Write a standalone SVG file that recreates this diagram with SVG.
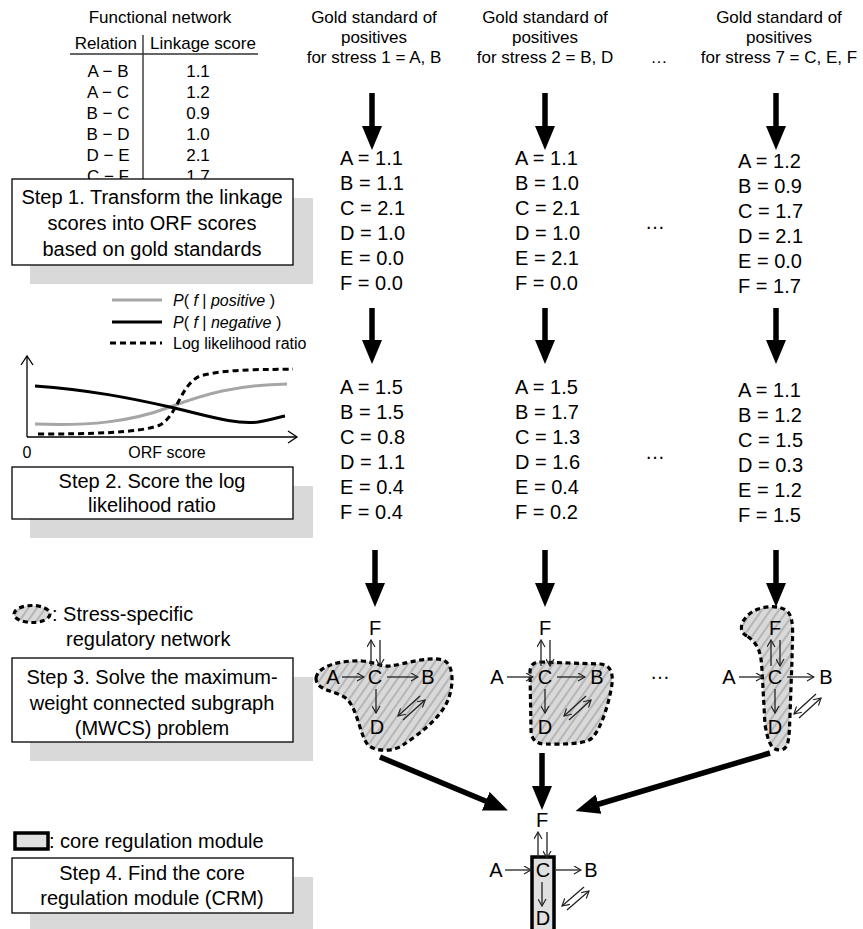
<svg xmlns="http://www.w3.org/2000/svg" width="863" height="929" viewBox="0 0 863 929">
<style>
text{font-family:"Liberation Sans",Arial,sans-serif;fill:#000}
.s16{font-size:16px}
.s17{font-size:17px}
.s20{font-size:20px}
.mid{text-anchor:middle}
.it{font-style:italic}
.box{fill:#fff;stroke:#000;stroke-width:1.3}
.shadow{fill:#d9d9d9}
.big{stroke:#000;stroke-width:5.5;fill:none;marker-end:url(#bighead)}
.thin{stroke:#222;stroke-width:1.3;fill:none;marker-end:url(#openhead)}
.blob{fill:url(#hatch);stroke:#000;stroke-width:3.2;stroke-dasharray:5 3.5}
</style>
<defs>
<pattern id="hatch" patternUnits="userSpaceOnUse" width="7" height="10" patternTransform="rotate(35)">
<rect width="7" height="10" fill="#d9d9d9"/>
<path d="M1,0 L1,10" stroke="#a3a3a3" stroke-width="1.3"/>
</pattern>
<marker id="bighead" markerUnits="userSpaceOnUse" markerWidth="24" markerHeight="20" viewBox="0 0 24 20" refX="10" refY="10" orient="auto">
<path d="M0,0 L24,10 L0,20 Z" fill="#000"/>
</marker>
<marker id="openhead" markerUnits="userSpaceOnUse" markerWidth="9" markerHeight="9" viewBox="0 0 9 9" refX="8" refY="4.5" orient="auto">
<path d="M1,0.5 L8,4.5 L1,8.5" fill="none" stroke="#222" stroke-width="1.2"/>
</marker>
<marker id="axishead" markerUnits="userSpaceOnUse" markerWidth="12" markerHeight="14" viewBox="0 0 12 14" refX="10" refY="7" orient="auto">
<path d="M1,1 L10,7 L1,13" fill="none" stroke="#000" stroke-width="1.3"/>
</marker>
</defs>

<!-- Functional network table -->
<g id="table">
<text class="s17 mid" x="160" y="23">Functional network</text>
<text class="s17" x="137" y="49" text-anchor="end">Relation</text>
<text class="s17" x="150" y="49">Linkage score</text>
<line x1="70" y1="54" x2="258" y2="54" stroke="#333" stroke-width="1.4"/>
<line x1="143" y1="35" x2="143" y2="182" stroke="#333" stroke-width="1.4"/>
<g class="s17">
<text class="mid" x="108" y="77">A − B</text><text class="mid" x="198" y="77">1.1</text>
<text class="mid" x="108" y="98">A − C</text><text class="mid" x="198" y="98">1.2</text>
<text class="mid" x="108" y="119">B − C</text><text class="mid" x="198" y="119">0.9</text>
<text class="mid" x="108" y="140">B − D</text><text class="mid" x="198" y="140">1.0</text>
<text class="mid" x="108" y="161">D − E</text><text class="mid" x="198" y="161">2.1</text>
<text class="mid" x="108" y="182">C − F</text><text class="mid" x="198" y="182">1.7</text>
</g>
</g>

<!-- Step boxes -->
<g id="step1">
<rect class="shadow" x="30" y="198" width="283" height="86"/>
<rect class="box" x="12" y="179" width="281" height="86"/>
<text class="s20 mid" x="152" y="204">Step 1. Transform the linkage</text>
<text class="s20 mid" x="152" y="230">scores into ORF scores</text>
<text class="s20 mid" x="152" y="256">based on gold standards</text>
</g>

<g id="chart">
<line x1="112" y1="300" x2="162" y2="300" stroke="#a6a6a6" stroke-width="3"/>
<text class="s16" x="173" y="306"><tspan class="it">P</tspan>( <tspan class="it">f</tspan> | <tspan class="it">positive</tspan> )</text>
<line x1="112" y1="322" x2="162" y2="322" stroke="#000" stroke-width="3"/>
<text class="s16" x="173" y="328"><tspan class="it">P</tspan>( <tspan class="it">f</tspan> | <tspan class="it">negative</tspan> )</text>
<line x1="110" y1="343" x2="162" y2="343" stroke="#000" stroke-width="3" stroke-dasharray="6 4"/>
<text class="s16" x="173" y="349">Log likelihood ratio</text>
<path d="M27,437 L27,356" stroke="#000" stroke-width="1.3" fill="none" marker-end="url(#axishead)"/>
<path d="M27,437 L297,437" stroke="#000" stroke-width="1.3" fill="none" marker-end="url(#axishead)"/>
<path d="M35,424 C90,426 130,422 170,407 C205,394 235,385 287,384" stroke="#a6a6a6" stroke-width="3" fill="none"/>
<path d="M35,386 C90,390 130,398 170,407 C205,415 235,425 258,422 C270,420 280,417 285,416" stroke="#000" stroke-width="3" fill="none"/>
<path d="M38,434 C90,434 140,433 160,425 C178,415 180,385 200,376 C230,368 270,370 293,369" stroke="#000" stroke-width="3" fill="none" stroke-dasharray="6 4"/>
<text class="s16 mid" x="27" y="458">0</text>
<text class="s16 mid" x="167" y="458">ORF score</text>
</g>

<g id="step2">
<rect class="shadow" x="30" y="486" width="283" height="52"/>
<rect class="box" x="12" y="467" width="281" height="52"/>
<text class="s20 mid" x="152" y="488">Step 2. Score the log</text>
<text class="s20 mid" x="152" y="512">likelihood ratio</text>
</g>

<g id="legend3">
<ellipse class="blob" cx="32" cy="614" rx="18" ry="8.5"/>
<text class="s20" x="52" y="621">: Stress-specific</text>
<text class="s20" x="66" y="646">regulatory network</text>
</g>

<g id="step3">
<rect class="shadow" x="30" y="677" width="283" height="84"/>
<rect class="box" x="12" y="658" width="281" height="84"/>
<text class="s20 mid" x="152" y="684">Step 3. Solve the maximum-</text>
<text class="s20 mid" x="152" y="710">weight connected subgraph</text>
<text class="s20 mid" x="152" y="735">(MWCS) problem</text>
</g>

<g id="legend4">
<rect x="15" y="833" width="33" height="16" fill="#e0e0e0" stroke="#000" stroke-width="3.5"/>
<text class="s20" x="49" y="848">: core regulation module</text>
</g>

<g id="step4">
<rect class="shadow" x="30" y="877" width="283" height="55"/>
<rect class="box" x="12" y="858" width="281" height="55"/>
<text class="s20 mid" x="152" y="880">Step 4. Find the core</text>
<text class="s20 mid" x="152" y="905">regulation module (CRM)</text>
</g>

<!-- Column headers -->
<g id="header1" class="s17">
<text class="mid" x="374" y="23">Gold standard of</text>
<text class="mid" x="374" y="43">positives</text>
<text class="mid" x="374" y="63">for stress 1 = A, B</text>
</g>
<g id="header2" class="s17">
<text class="mid" x="545" y="23">Gold standard of</text>
<text class="mid" x="545" y="43">positives</text>
<text class="mid" x="545" y="63">for stress 2 = B, D</text>
</g>
<text class="s17 mid" x="659" y="63">…</text>
<g id="header3" class="s17">
<text class="mid" x="779" y="23">Gold standard of</text>
<text class="mid" x="779" y="43">positives</text>
<text class="mid" x="779" y="63">for stress 7 = C, E, F</text>
</g>

<!-- ORF scores -->
<g id="orf1" class="s20">
<text x="340" y="165">A = 1.1</text><text x="340" y="190">B = 1.1</text><text x="340" y="215">C = 2.1</text>
<text x="340" y="240">D = 1.0</text><text x="340" y="265">E = 0.0</text><text x="340" y="290">F = 0.0</text>
</g>
<g id="orf2" class="s20">
<text x="515" y="165">A = 1.1</text><text x="515" y="190">B = 1.0</text><text x="515" y="215">C = 2.1</text>
<text x="515" y="240">D = 1.0</text><text x="515" y="265">E = 2.1</text><text x="515" y="290">F = 0.0</text>
</g>
<text class="s20 mid" x="655" y="229">…</text>
<g id="orf3" class="s20">
<text x="738" y="168">A = 1.2</text><text x="738" y="193">B = 0.9</text><text x="738" y="218">C = 1.7</text>
<text x="738" y="243">D = 2.1</text><text x="738" y="268">E = 0.0</text><text x="738" y="293">F = 1.7</text>
</g>

<!-- LLR scores -->
<g id="llr1" class="s20">
<text x="340" y="394">A = 1.5</text><text x="340" y="419">B = 1.5</text><text x="340" y="444">C = 0.8</text>
<text x="340" y="469">D = 1.1</text><text x="340" y="494">E = 0.4</text><text x="340" y="519">F = 0.4</text>
</g>
<g id="llr2" class="s20">
<text x="515" y="394">A = 1.5</text><text x="515" y="419">B = 1.7</text><text x="515" y="444">C = 1.3</text>
<text x="515" y="469">D = 1.6</text><text x="515" y="494">E = 0.4</text><text x="515" y="519">F = 0.2</text>
</g>
<text class="s20 mid" x="655" y="459">…</text>
<g id="llr3" class="s20">
<text x="738" y="397">A = 1.1</text><text x="738" y="422">B = 1.2</text><text x="738" y="447">C = 1.5</text>
<text x="738" y="472">D = 0.3</text><text x="738" y="497">E = 1.2</text><text x="738" y="522">F = 1.5</text>
</g>

<!-- Networks -->
<g id="net1">
<path class="blob" d="M316,678 C318,665 343,660 362,661 C375,662 380,667 390,666 C405,664 428,656 443,660 C454,664 454,685 448,700 C441,718 418,735 403,745 C393,752 376,752 368,745 C360,735 358,712 348,700 C338,690 316,692 316,678 Z"/>
<g class="s20">
<text class="mid" x="375" y="635">F</text>
<text class="mid" x="333" y="684">A</text>
<text class="mid" x="375" y="684">C</text>
<text class="mid" x="428" y="684">B</text>
<text class="mid" x="377" y="734">D</text>
</g>
<path class="thin" d="M371,666 L371,640"/>
<path class="thin" d="M380,640 L380,666"/>
<path class="thin" d="M342,677 L364,677"/>
<path class="thin" d="M387,677 L418,677"/>
<path class="thin" d="M376,689 L376,713"/>
<path class="thin" d="M420,696 L398,716"/>
<path class="thin" d="M403,720 L425,700"/>
</g>

<g id="net2">
<path class="blob" d="M540,662 L600,664 C612,665 614,675 611,690 C607,710 600,730 592,738 C585,745 560,744 545,744 C535,744 531,738 531,730 L530,672 C530,665 534,662 540,662 Z"/>
<g class="s20">
<text class="mid" x="545" y="635">F</text>
<text class="mid" x="497" y="684">A</text>
<text class="mid" x="545" y="684">C</text>
<text class="mid" x="597" y="684">B</text>
<text class="mid" x="545" y="734">D</text>
</g>
<path class="thin" d="M541,666 L541,640"/>
<path class="thin" d="M550,640 L550,666"/>
<path class="thin" d="M507,677 L533,677"/>
<path class="thin" d="M557,677 L585,677"/>
<path class="thin" d="M545,689 L545,713"/>
<path class="thin" d="M586,696 L564,716"/>
<path class="thin" d="M569,720 L591,700"/>
</g>

<text class="s20 mid" x="660" y="679">…</text>

<g id="net3">
<path class="blob" d="M747,636 C738,632 740,620 752,612 C762,606 780,604 788,612 C795,620 792,640 792,660 L790,715 C789,735 790,750 780,750 C770,750 768,740 765,725 L762,670 C761,655 760,645 747,636 Z"/>
<g class="s20">
<text class="mid" x="775" y="635">F</text>
<text class="mid" x="729" y="684">A</text>
<text class="mid" x="775" y="684">C</text>
<text class="mid" x="826" y="684">B</text>
<text class="mid" x="775" y="734">D</text>
</g>
<path class="thin" d="M771,666 L771,640"/>
<path class="thin" d="M780,640 L780,666"/>
<path class="thin" d="M739,677 L763,677"/>
<path class="thin" d="M787,677 L814,677"/>
<path class="thin" d="M775,689 L775,713"/>
<path class="thin" d="M816,694 L794,714"/>
<path class="thin" d="M799,718 L821,698"/>
</g>

<g id="crm">
<rect x="532" y="857" width="22" height="80" fill="#e0e0e0" stroke="#000" stroke-width="3.5"/>
<g class="s20">
<text class="mid" x="542" y="827">F</text>
<text class="mid" x="496" y="877">A</text>
<text class="mid" x="543" y="877">C</text>
<text class="mid" x="591" y="877">B</text>
<text class="mid" x="543" y="925">D</text>
</g>
<path class="thin" d="M538,858 L538,832"/>
<path class="thin" d="M547,832 L547,858"/>
<path class="thin" d="M505,870 L531,870"/>
<path class="thin" d="M556,870 L581,870"/>
<path class="thin" d="M542,882 L542,906"/>
<path class="thin" d="M584,887 L562,906"/>
<path class="thin" d="M567,910 L589,891"/>
</g>

<!-- Connectors -->
<g id="connectors">
<line class="big" x1="372" y1="93" x2="372" y2="136"/>
<line class="big" x1="545" y1="93" x2="545" y2="136"/>
<line class="big" x1="776" y1="93" x2="776" y2="136"/>
<line class="big" x1="372" y1="308" x2="372" y2="350"/>
<line class="big" x1="545" y1="308" x2="545" y2="350"/>
<line class="big" x1="776" y1="308" x2="776" y2="350"/>
<line class="big" x1="375" y1="550" x2="375" y2="593"/>
<line class="big" x1="545" y1="550" x2="545" y2="593"/>
<line class="big" x1="776" y1="550" x2="776" y2="593"/>
<line class="big" x1="380" y1="757" x2="495" y2="805"/>
<line class="big" x1="542" y1="753" x2="542" y2="796"/>
<line class="big" x1="770" y1="753" x2="589" y2="807"/>
</g>
</svg>
